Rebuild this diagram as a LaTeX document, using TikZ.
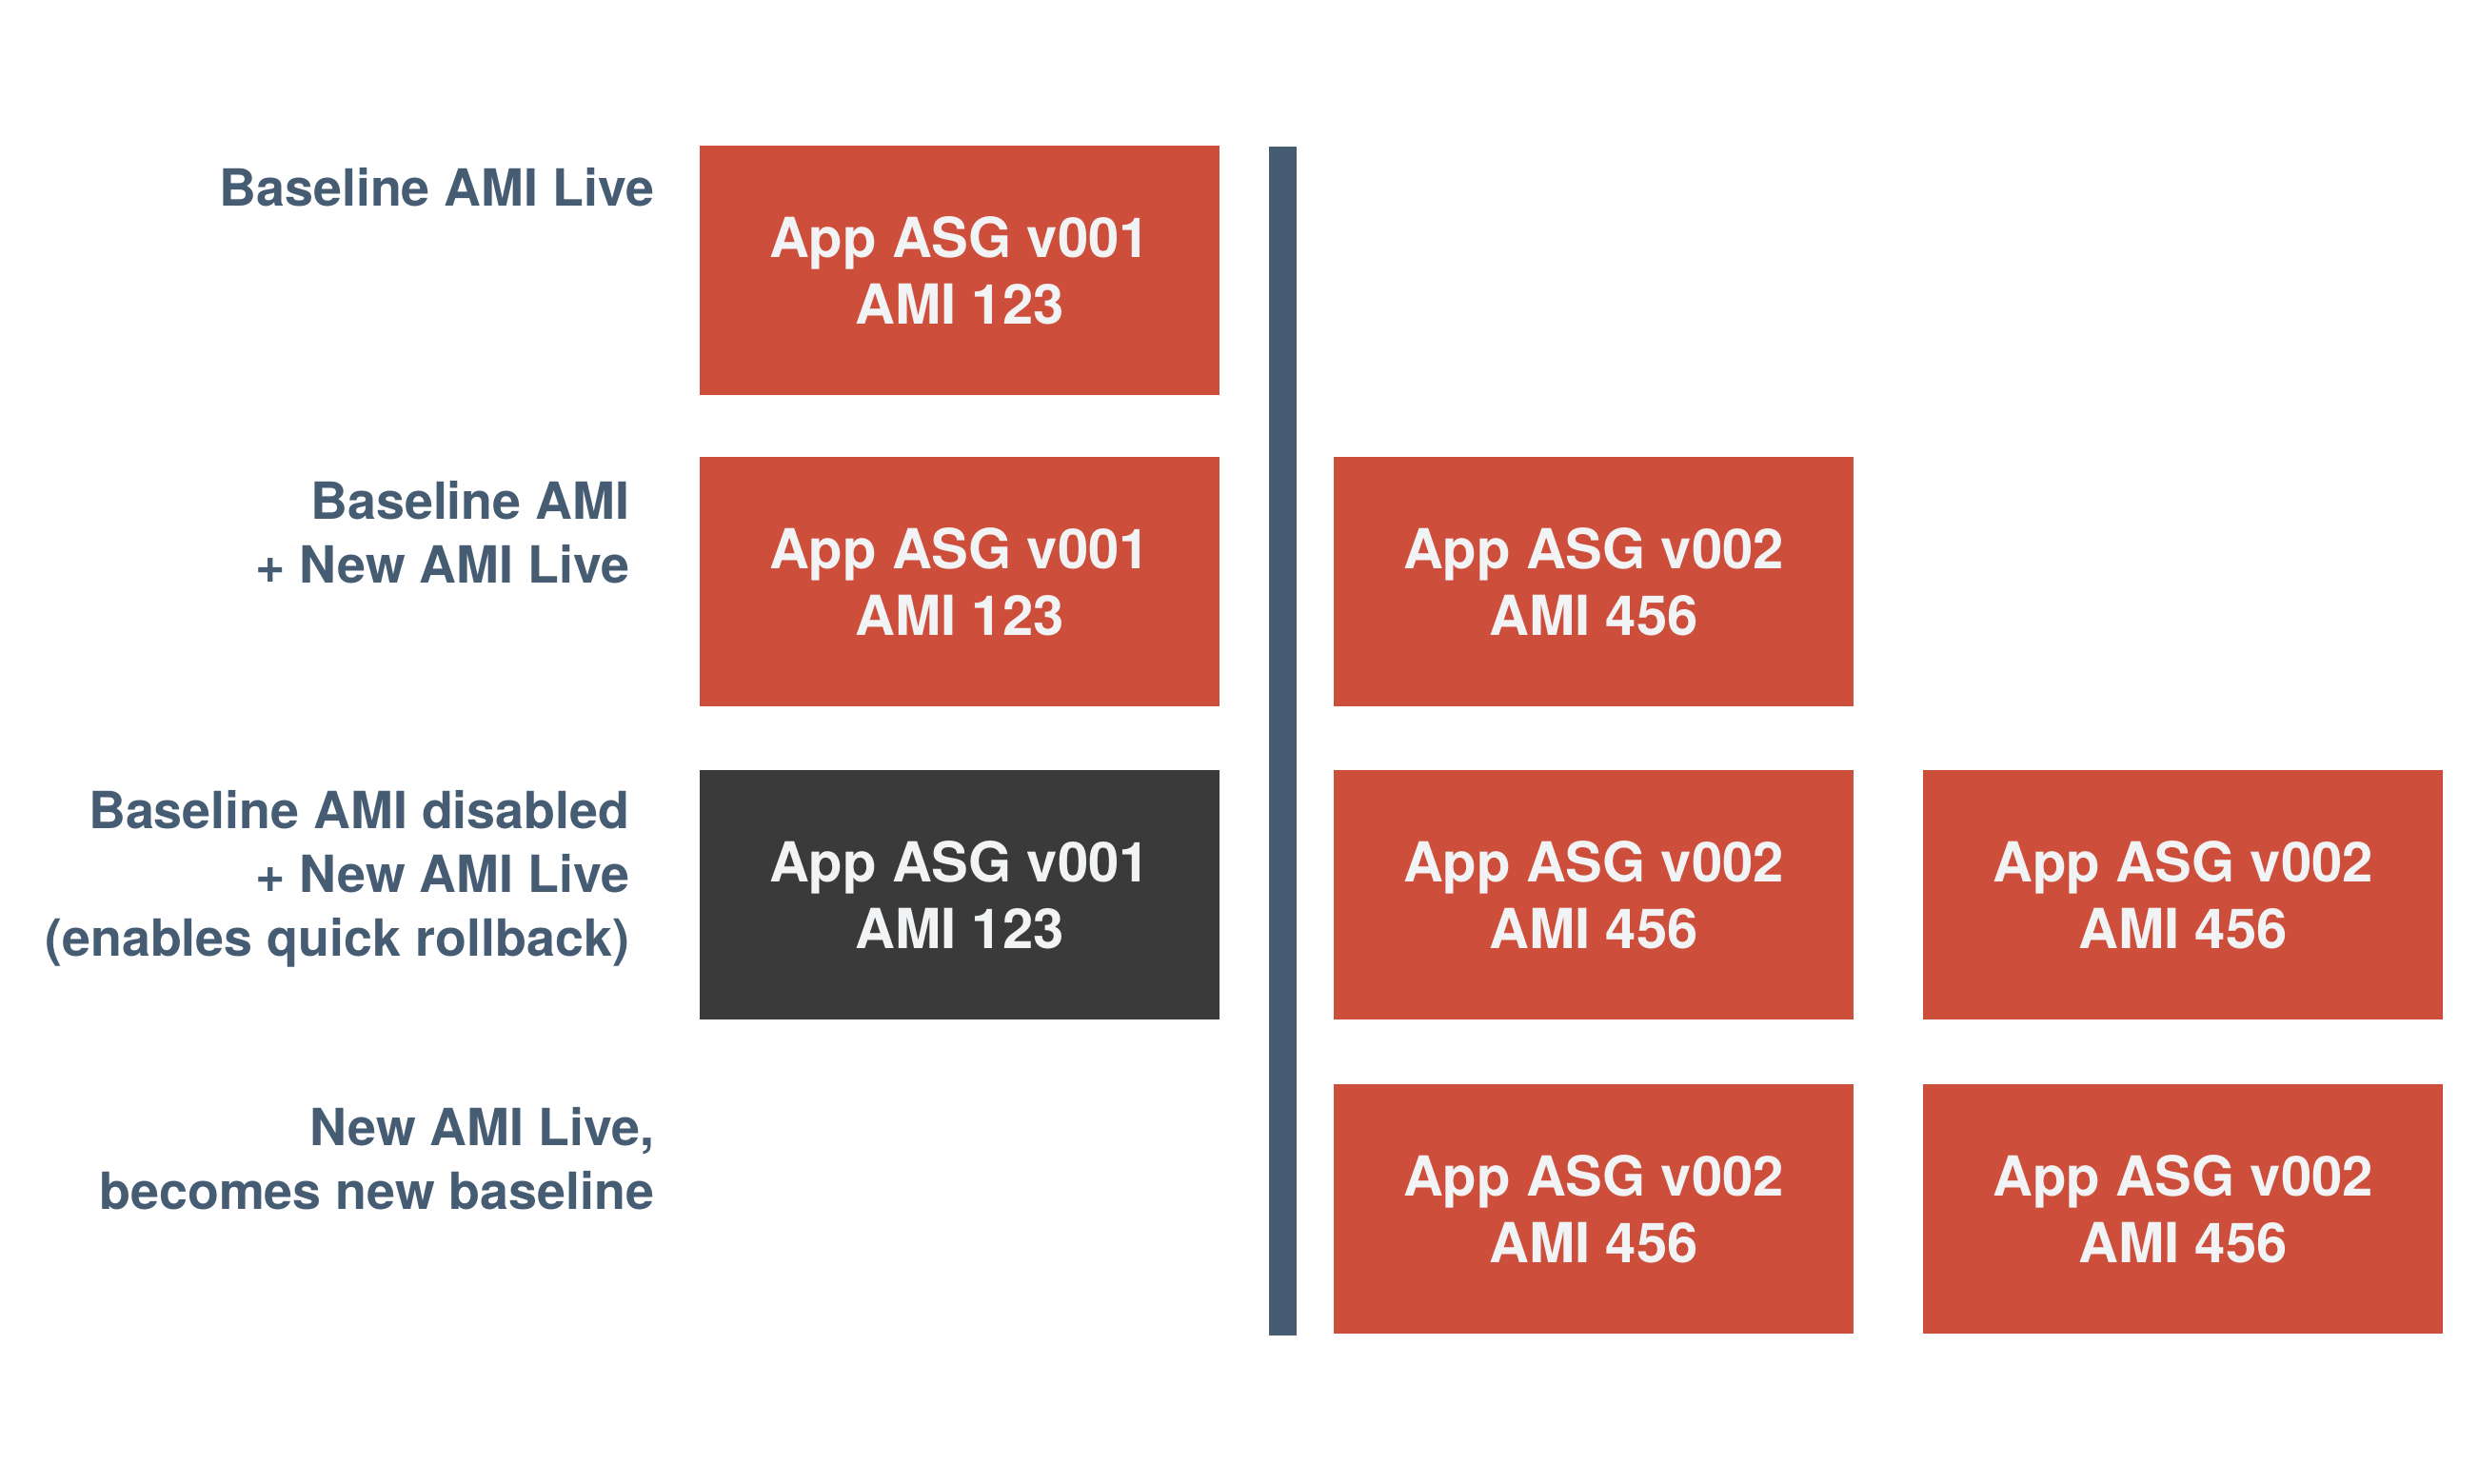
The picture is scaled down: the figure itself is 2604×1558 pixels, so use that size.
\documentclass[tikz,border=0pt]{standalone}
\usepackage{fontspec}
\setmainfont{TeX Gyre Heros}
\usepackage{tikz}

\definecolor{asgred}{RGB}{204,78,59}
\definecolor{asgoff}{RGB}{58,58,58}
\definecolor{slate}{RGB}{69,92,114}
\definecolor{offwhite}{RGB}{241,243,244}

\tikzset{
  asg/.style={draw=none,fill=asgred,text=offwhite,minimum width=5.45cm,minimum height=2.62cm,
    inner sep=0pt,align=center,font=\fontsize{16.5}{20}\selectfont\bfseries},
  asgdisabled/.style={asg,fill=asgoff},
  stage/.style={anchor=east,inner sep=0pt,align=right,text=slate,
    font=\fontsize{15.3}{19}\selectfont\bfseries}
}

\begin{document}
\begin{tikzpicture}[x=0.01cm,y=-0.01cm]
  \useasboundingbox (0,0) rectangle (2604,1558);

  \node[stage] (L1) at (688,197) {Baseline AMI Live};
  \node[stage] (L2) at (662,559) {Baseline AMI\\+ New AMI Live};
  \node[stage] (L3) at (662,923) {Baseline AMI disabled\\+ New AMI Live\\(enables quick rollback)};
  \node[stage] (L4) at (688,1217) {New AMI Live,\\becomes new baseline};

  \node[asg] (A1) at (1008,284) {App ASG v001\\AMI 123};
  \node[asg] (A2) at (1008,611) {App ASG v001\\AMI 123};
  \node[asgdisabled] (A3) at (1008,940) {App ASG v001\\AMI 123};

  \node[asg] (B2) at (1674,611) {App ASG v002\\AMI 456};
  \node[asg] (B3) at (1674,940) {App ASG v002\\AMI 456};
  \node[asg] (B4) at (1674,1270) {App ASG v002\\AMI 456};

  \node[asg] (C3) at (2293,940) {App ASG v002\\AMI 456};
  \node[asg] (C4) at (2293,1270) {App ASG v002\\AMI 456};

  \fill[slate] (1333,154) rectangle (1362,1403);

\end{tikzpicture}
\end{document}
